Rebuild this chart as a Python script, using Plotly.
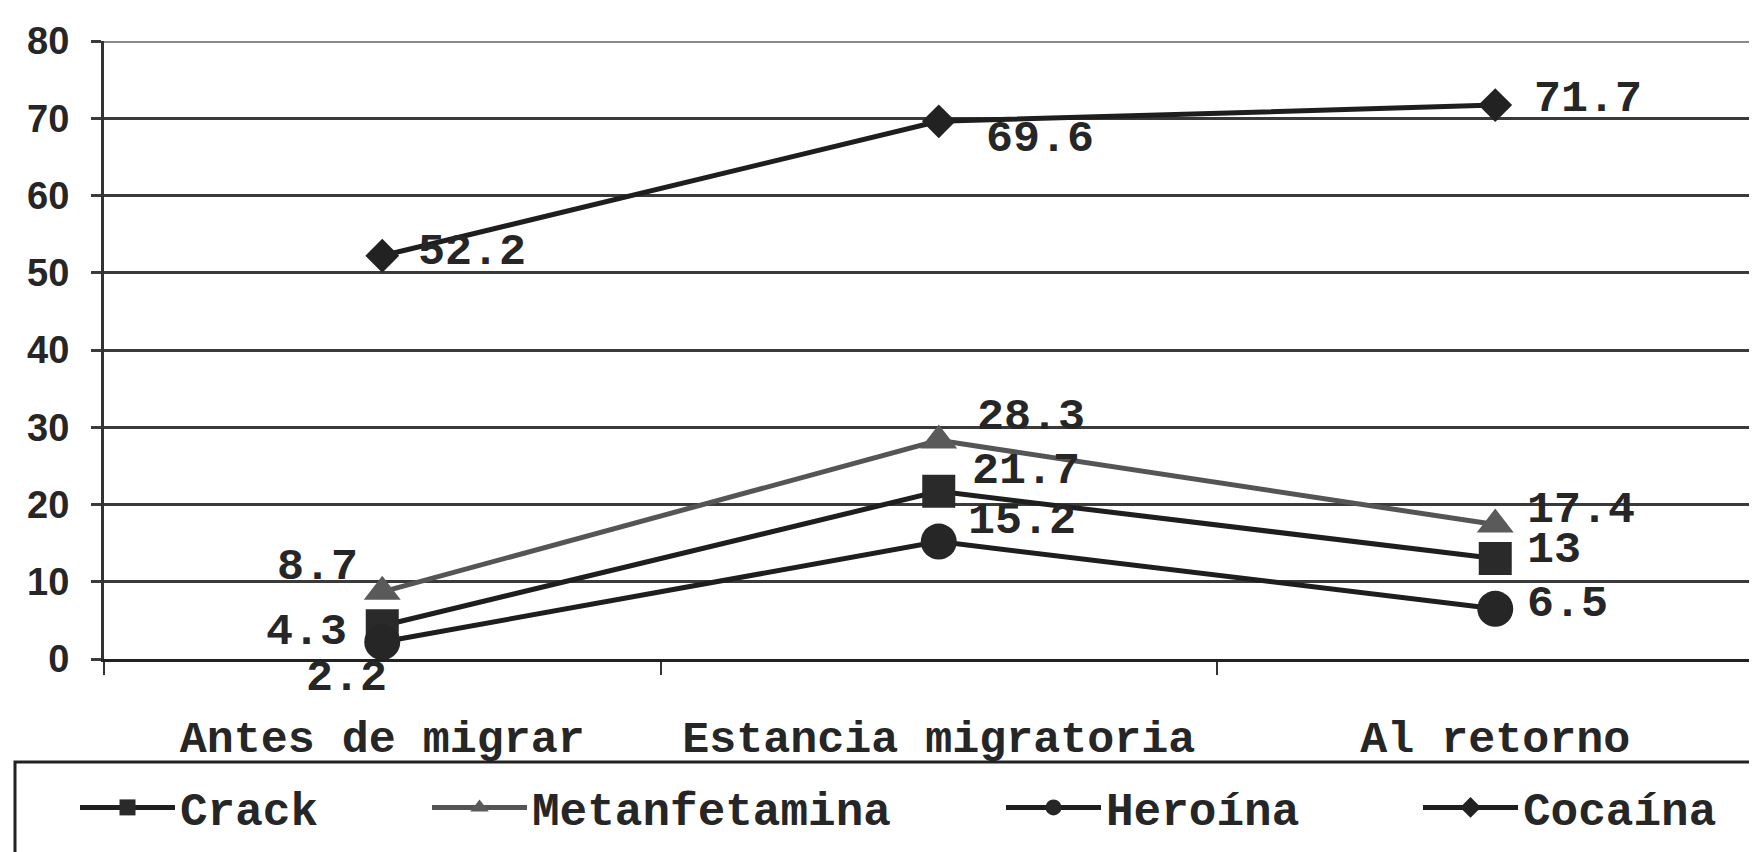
import plotly.graph_objects as go

categories = ["Antes de migrar", "Estancia migratoria", "Al retorno"]
series_names = ["Crack", "Metanfetamina", "Heroína", "Cocaína"]
crack = [4.3, 21.7, 13]
metanfetamina = [8.7, 28.3, 17.4]
heroina = [2.2, 15.2, 6.5]
cocaina = [52.2, 69.6, 71.7]
label_texts = {
    "Crack": ["4.3", "21.7", "13"],
    "Metanfetamina": ["8.7", "28.3", "17.4"],
    "Heroína": ["2.2", "15.2", "6.5"],
    "Cocaína": ["52.2", "69.6", "71.7"],
}
y_ticks = [0, 10, 20, 30, 40, 50, 60, 70, 80]

values = {"Crack": crack, "Metanfetamina": metanfetamina, "Heroína": heroina, "Cocaína": cocaina}

# styles / layout (page has an 8px body margin)
OFF = 8
W, H = 1757 - OFF, 852 - OFF
PAGE_PLOT_LEFT, PAGE_PLOT_TOP, PAGE_PLOT_BOTTOM = 104, 41, 659
ML, MR = PAGE_PLOT_LEFT - OFF, 0
MT = PAGE_PLOT_TOP - OFF
MB = H - (PAGE_PLOT_BOTTOM - OFF)
PW = W - ML - MR
PH = H - MT - MB
mono = "Liberation Mono"
txtcol = "#262626"
styles = {
    "Crack": dict(symbol="square", size=33, color="#2a2a2a", line="#1e1e1e"),
    "Metanfetamina": dict(symbol="triangle-up", size=32, color="#5a5a5a", line="#555555"),
    "Heroína": dict(symbol="circle", size=36, color="#262626", line="#1e1e1e"),
    "Cocaína": dict(symbol="diamond", size=26, color="#222222", line="#1e1e1e"),
}
# label offsets (xanchor, xshift px, yshift px)
label_offsets = {
    "Cocaína": [("left", 34, 3), ("left", 45, -18), ("left", 37, 6)],
    "Metanfetamina": [("right", -22, 24), ("left", 36, 23), ("left", 30, 14)],
    "Crack": [("right", -33, -7), ("left", 31, 20), ("left", 30, 8)],
    "Heroína": [("center", -36, -36), ("left", 27, 20), ("left", 30, 4)],
}
legend_x_px = {"Crack": 75, "Metanfetamina": 427, "Heroína": 1001, "Cocaína": 1418}
legend_keys = {"Crack": "legend", "Metanfetamina": "legend2", "Heroína": "legend3", "Cocaína": "legend4"}

fig = go.Figure()
for name in series_names:
    st = styles[name]
    fig.add_trace(go.Scatter(
        x=categories, y=values[name], name=name, mode="lines+markers",
        line=dict(color=st["line"], width=5),
        marker=dict(symbol=st["symbol"], size=st["size"], color=st["color"], line=dict(width=0)),
        legend=legend_keys[name], cliponaxis=False,
    ))

annotations = []
for name in series_names:
    for cat, v, t, (xa, xs, ys) in zip(categories, values[name], label_texts[name], label_offsets[name]):
        annotations.append(dict(
            x=cat, y=v, xref="x", yref="y", text=t, showarrow=False,
            xanchor=xa, yanchor="middle", xshift=xs, yshift=ys,
            font=dict(family=mono, size=45, color=txtcol, weight="bold"),
        ))

legend_top_px = 771
legend_layouts = {}
for name in series_names:
    key = legend_keys[name]
    legend_layouts[key] = dict(
        x=(legend_x_px[name] - PAGE_PLOT_LEFT) / PW, xanchor="left",
        y=(PAGE_PLOT_BOTTOM - legend_top_px) / PH, yanchor="top",
        orientation="h", bgcolor="rgba(0,0,0,0)", borderwidth=0,
        font=dict(family=mono, size=46, color=txtcol, weight="bold"),
        itemwidth=95, itemsizing="trace",
    )

fig.update_layout(
    width=W, height=H,
    margin=dict(l=ML, r=MR, t=MT, b=MB, pad=0, autoexpand=False),
    paper_bgcolor="white", plot_bgcolor="white",
    showlegend=True,
    annotations=annotations,
    shapes=[
        dict(type="rect", xref="paper", yref="paper",
             x0=(15 - PAGE_PLOT_LEFT) / PW, x1=1.02,
             y0=-0.4, y1=(PAGE_PLOT_BOTTOM - 762) / PH,
             line=dict(color="#222222", width=3), fillcolor="rgba(0,0,0,0)"),
        dict(type="line", xref="paper", yref="y", x0=0, x1=1, y0=80, y1=80,
             line=dict(color="#8a8a8a", width=4), layer="below"),
    ],
    xaxis=dict(
        type="category", range=[-0.5, PW / ((1496 - 383) / 2) - 0.5],
        tickson="boundaries", ticks="outside", ticklen=13, tickwidth=2, tickcolor="#333333",
        showgrid=False, showline=True, linecolor="#222222", linewidth=3,
        tickfont=dict(family=mono, size=45, color=txtcol, weight="bold"),
        ticklabelstandoff=36, zeroline=False,
    ),
    yaxis=dict(
        range=[0, 80], tickvals=y_ticks, ticks="outside", ticklen=10, tickwidth=3,
        tickcolor="#3a3a3a", showgrid=True, gridcolor="#3a3a3a", gridwidth=3,
        showline=True, linecolor="#333333", linewidth=3, zeroline=False,
        tickfont=dict(family="Liberation Sans", size=38, color=txtcol, weight="bold"),
        ticklabelstandoff=14,
    ),
    **legend_layouts,
)

fig.write_html("out.html")
